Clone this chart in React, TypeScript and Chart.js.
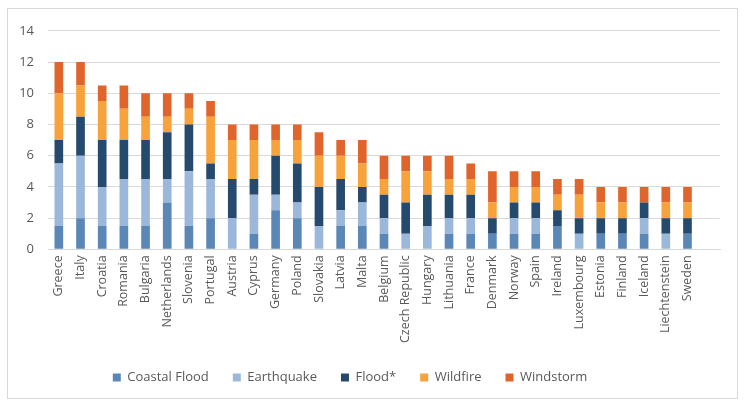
import React, { useEffect, useRef } from "react";
import { Chart, registerables } from "chart.js";

Chart.register(...registerables);

const categories = [
  "Greece", "Italy", "Croatia", "Romania", "Bulgaria", "Netherlands", "Slovenia", "Portugal",
  "Austria", "Cyprus", "Germany", "Poland", "Slovakia", "Latvia", "Malta", "Belgium",
  "Czech Republic", "Hungary", "Lithuania", "France", "Denmark", "Norway", "Spain", "Ireland",
  "Luxembourg", "Estonia", "Finland", "Iceland", "Liechtenstein", "Sweden",
];

const coastalFlood = [1.5, 2, 1.5, 1.5, 1.5, 3, 1.5, 2, 0, 1, 2.5, 2, 0, 1.5, 1.5, 1, 0, 0, 1, 1, 1, 1, 1, 1.5, 0, 1, 1, 1, 0, 1];
const earthquake = [4, 4, 2.5, 3, 3, 1.5, 3.5, 2.5, 2, 2.5, 1, 1, 1.5, 1, 1.5, 1, 1, 1.5, 1, 1, 0, 1, 1, 0, 1, 0, 0, 1, 1, 0];
const flood = [1.5, 2.5, 3, 2.5, 2.5, 3, 3, 1, 2.5, 1, 2.5, 2.5, 2.5, 2, 1, 1.5, 2, 2, 1.5, 1.5, 1, 1, 1, 1, 1, 1, 1, 1, 1, 1];
const wildfire = [3, 2, 2.5, 2, 1.5, 1, 1, 3, 2.5, 2.5, 1, 1.5, 2, 1.5, 1.5, 1, 2, 1.5, 1, 1, 1, 1, 1, 1, 1.5, 1, 1, 0, 1, 1];
const windstorm = [2, 1.5, 1, 1.5, 1.5, 1.5, 1, 1, 1, 1, 1, 1, 1.5, 1, 1.5, 1.5, 1, 1, 1.5, 1, 2, 1, 1, 1, 1, 1, 1, 1, 1, 1];

const seriesNames = ["Coastal Flood", "Earthquake", "Flood*", "Wildfire", "Windstorm"];
const seriesColors = ["#5B87B6", "#9BB8DA", "#264A6D", "#F7A23B", "#E0652C"];
const yTicks = [0, 2, 4, 6, 8, 10, 12, 14];

const LEGEND_SHIFT_X = -19;
const LEGEND_SHIFT_Y = -2;

export default function App() {
  const ref = useRef<HTMLCanvasElement | null>(null);

  useEffect(() => {
    if (!ref.current) return;
    const values = [coastalFlood, earthquake, flood, wildfire, windstorm];
    const shiftLegend = {
      id: "shiftLegend",
      afterLayout(chart: any) {
        if (chart.legend) {
          chart.legend.left += LEGEND_SHIFT_X;
          chart.legend.right += LEGEND_SHIFT_X;
          chart.legend.top += LEGEND_SHIFT_Y;
          chart.legend.bottom += LEGEND_SHIFT_Y;
        }
      },
    };
    const chart = new Chart(ref.current, {
      type: "bar",
      data: {
        labels: [...categories, ""],
        datasets: seriesNames.map((name, i) => ({
          label: name,
          data: values[i],
          backgroundColor: seriesColors[i],
          borderWidth: 0,
          categoryPercentage: 1,
          barPercentage: 0.4,
        })),
      },
      options: {
        responsive: false,
        animation: false,
        events: [],
        layout: { padding: { left: 10, right: 17, top: 10, bottom: 2 } },
        scales: {
          x: {
            stacked: true,
            grid: { display: false, drawTicks: false },
            border: { display: true, color: "#d9d9d9" },
            ticks: {
              autoSkip: false,
              maxRotation: 90,
              minRotation: 90,
              padding: 6,
              color: "#595959",
              font: { family: "'Open Sans'", size: 12.5 },
            },
          },
          y: {
            stacked: true,
            min: 0,
            max: 14,
            afterBuildTicks: (axis: any) => {
              axis.ticks = yTicks.map((v) => ({ value: v }));
            },
            afterFit: (axis: any) => {
              axis.width = 30;
            },
            grid: { color: "#d9d9d9", drawTicks: false },
            border: { display: false },
            ticks: {
              padding: 14,
              color: "#595959",
              font: { family: "'Open Sans'", size: 13 },
            },
          },
        },
        plugins: {
          legend: {
            position: "bottom",
            labels: {
              boxWidth: 8,
              boxHeight: 8,
              padding: 24,
              color: "#595959",
              font: { family: "'Open Sans'", size: 13 },
            },
          },
          tooltip: { enabled: false },
        },
      },
      plugins: [shiftLegend],
    });
    return () => chart.destroy();
  }, []);

  return (
    <div
      style={{
        position: "absolute",
        left: 7,
        top: 8,
        width: 729,
        height: 389,
        border: "1px solid #d9d9d9",
        background: "#fff",
      }}
    >
      <canvas ref={ref} width={729} height={389} style={{ display: "block" }} />
    </div>
  );
}
